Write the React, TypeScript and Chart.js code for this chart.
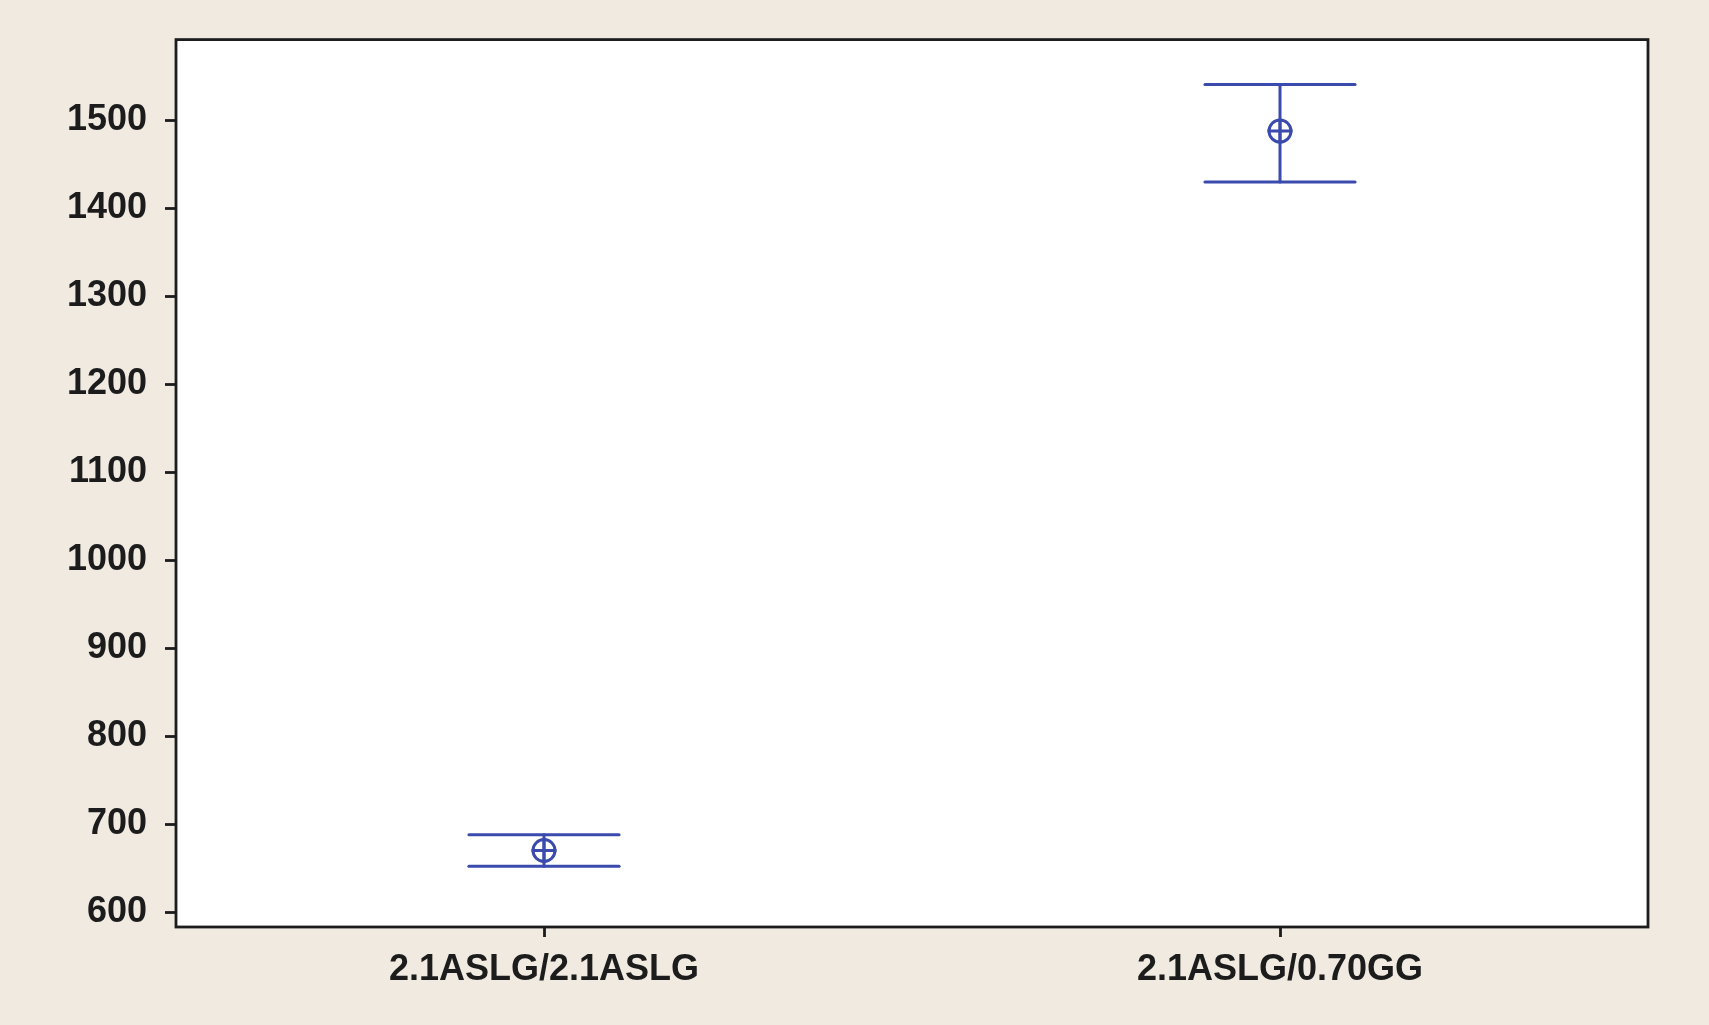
import React, { useEffect, useRef } from 'react';
import { Chart, registerables, ChartConfiguration } from 'chart.js';

Chart.register(...registerables);

// Groups on the x axis
const categories = ['2.1ASLG/2.1ASLG', '2.1ASLG/0.70GG'];
// Mean and interval bounds per group
const means = [670, 1488];
const lowerBounds = [652, 1430];
const upperBounds = [688, 1541];
// Y axis ticks
const yTicks = [600, 700, 800, 900, 1000, 1100, 1200, 1300, 1400, 1500];

const BG = '#f0eae1';
const INK = '#1c1c1c';
const BLUE = '#3a4bad';
const CAP_HALF = 0.102;

const frame = {
  id: 'frame',
  beforeDraw(chart: Chart) {
    const { ctx, chartArea: a } = chart;
    ctx.save();
    ctx.fillStyle = BG;
    ctx.fillRect(0, 0, chart.width, chart.height);
    ctx.fillStyle = '#ffffff';
    ctx.fillRect(a.left, a.top, a.right - a.left, a.bottom - a.top);
    ctx.restore();
  },
  afterDraw(chart: Chart) {
    const { ctx, chartArea: a } = chart;
    ctx.save();
    ctx.strokeStyle = INK;
    ctx.lineWidth = 2.8;
    ctx.strokeRect(a.left, a.top, a.right - a.left, a.bottom - a.top);
    ctx.restore();
  },
};

export default function App() {
  const canvasRef = useRef<HTMLCanvasElement | null>(null);

  useEffect(() => {
    document.body.style.margin = '0';
    document.body.style.background = BG;
    const canvas = canvasRef.current;
    if (!canvas) return;

    const segment = (pts: { x: number; y: number }[]) => ({
      type: 'line' as const,
      data: pts,
      borderColor: BLUE,
      borderWidth: 3,
      borderCapStyle: 'round' as const,
      pointRadius: 0,
      fill: false,
    });

    const datasets: any[] = [];
    categories.forEach((_, i) => {
      const x = i + 1;
      datasets.push(segment([{ x: x - CAP_HALF, y: upperBounds[i] }, { x: x + CAP_HALF, y: upperBounds[i] }]));
      datasets.push(segment([{ x: x - CAP_HALF, y: lowerBounds[i] }, { x: x + CAP_HALF, y: lowerBounds[i] }]));
      datasets.push(segment([{ x, y: lowerBounds[i] }, { x, y: upperBounds[i] }]));
    });
    const meanPoints = means.map((m, i) => ({ x: i + 1, y: m }));
    datasets.push({
      type: 'scatter',
      data: meanPoints,
      pointStyle: 'circle',
      pointRadius: 11,
      borderColor: BLUE,
      backgroundColor: 'rgba(0,0,0,0)',
      borderWidth: 3,
    });
    datasets.push({
      type: 'scatter',
      data: meanPoints,
      pointStyle: 'cross',
      pointRadius: 12.5,
      borderColor: BLUE,
      borderWidth: 3,
    });

    const font = { family: '"Liberation Sans", Arial, sans-serif', size: 36, weight: 'bold' as const };

    const config: ChartConfiguration<'line'> = {
      type: 'line',
      data: { datasets },
      options: {
        responsive: false,
        devicePixelRatio: 1,
        animation: false,
        layout: { padding: { top: 37, right: 61, left: 0, bottom: 0 } },
        plugins: { legend: { display: false }, tooltip: { enabled: false } },
        scales: {
          x: {
            type: 'linear',
            min: 0.5,
            max: 2.5,
            afterBuildTicks: (scale: any) => {
              scale.ticks = categories.map((_, i) => ({ value: i + 1 }));
            },
            afterFit: (scale: any) => {
              scale.height = 98;
            },
            ticks: {
              color: INK,
              font,
              padding: 11,
              maxRotation: 0,
              callback: (v: any) => categories[Number(v) - 1] ?? '',
            },
            grid: { drawOnChartArea: false, drawTicks: true, tickLength: 10, tickColor: INK, tickWidth: 2.8 },
            border: { display: false },
          },
          y: {
            type: 'linear',
            min: 583,
            max: 1592,
            afterBuildTicks: (scale: any) => {
              scale.ticks = yTicks.map(v => ({ value: v }));
            },
            afterFit: (scale: any) => {
              scale.width = 176;
            },
            ticks: { color: INK, font, padding: 18, callback: (v: any) => String(v) },
            grid: { drawOnChartArea: false, drawTicks: true, tickLength: 11, tickColor: INK, tickWidth: 2.8 },
            border: { display: false },
          },
        },
      },
      plugins: [frame],
    };

    const chart = new Chart(canvas, config);
    return () => chart.destroy();
  }, []);

  return (
    <div style={{ width: 1709, height: 1025, background: BG }}>
      <canvas ref={canvasRef} width={1709} height={1025} style={{ display: 'block' }} />
    </div>
  );
}
